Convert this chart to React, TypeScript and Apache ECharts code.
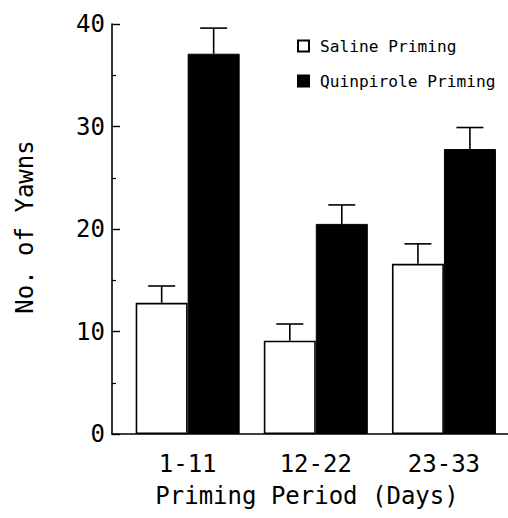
import React, { useEffect, useRef } from "react";
import * as echarts from "echarts";

const categories = ["1-11", "12-22", "23-33"];
const salineValues = [12.8, 9.1, 16.6];
const salineErrors = [1.64, 1.63, 1.95];
const quinValues = [37.1, 20.5, 27.8];
const quinErrors = [2.5, 1.85, 2.1];
const yTicks = { min: 0, max: 40, interval: 10 };

const FONT = "DejaVu Sans Mono";
const BAR_W = 52;

function errorSeries(name: string, values: number[], errs: number[], offset: number) {
  return {
    type: "custom",
    name,
    xAxisIndex: 0,
    yAxisIndex: 0,
    z: 5,
    silent: true,
    data: values.map((v, i) => [i, v, errs[i]]),
    renderItem: (params: any, api: any) => {
      const i = api.value(0);
      const v = api.value(1);
      const e = api.value(2);
      const base = api.coord([i, v]);
      const top = api.coord([i, v + e]);
      const cx = base[0] + offset;
      const style = { stroke: "#000", lineWidth: 1.6 };
      return {
        type: "group",
        children: [
          { type: "line", shape: { x1: cx, y1: base[1], x2: cx, y2: top[1] }, style },
          { type: "line", shape: { x1: cx - 13.5, y1: top[1], x2: cx + 13.5, y2: top[1] }, style },
        ],
      };
    },
  };
}

export default function App() {
  const ref = useRef<HTMLDivElement>(null);
  useEffect(() => {
    if (!ref.current) return;
    const chart = echarts.init(ref.current, null, { renderer: "svg" });
    chart.setOption({
      animation: false,
      backgroundColor: "#fff",
      textStyle: { fontFamily: FONT, color: "#000" },
      legend: {
        orient: "vertical",
        left: 297,
        top: 38,
        padding: 0,
        itemWidth: 11,
        itemHeight: 11,
        itemGap: 19,
        icon: "rect",
        data: ["Saline Priming", "Quinpirole Priming"],
        textStyle: { fontFamily: FONT, fontSize: 16.2, color: "#000", padding: [0, 0, 0, 6] },
      },
      grid: [
        { left: 123.6, width: 386, top: 24, bottom: 84 },
        { left: 112, right: 0, top: 24, bottom: 84 },
      ],
      xAxis: [
        {
          type: "category",
          gridIndex: 0,
          data: categories,
          axisLine: { show: false },
          axisTick: { show: false },
          axisLabel: { fontFamily: FONT, fontSize: 24, color: "#000", margin: 18 },
        },
        {
          type: "value",
          gridIndex: 1,
          min: 0,
          max: 1,
          axisLine: { show: true, lineStyle: { color: "#000", width: 1.6 } },
          axisTick: { show: false },
          axisLabel: { show: false },
          splitLine: { show: false },
        },
      ],
      yAxis: [
        { type: "value", gridIndex: 0, min: yTicks.min, max: yTicks.max, show: false },
        {
          type: "value",
          gridIndex: 1,
          min: yTicks.min,
          max: yTicks.max,
          interval: yTicks.interval,
          axisLine: { show: true, lineStyle: { color: "#000", width: 1.6 } },
          axisTick: { show: true, inside: true, length: 8, lineStyle: { color: "#000", width: 1.4 } },
          minorTick: { show: true, splitNumber: 2, length: 4, lineStyle: { color: "#000", width: 1.2 } },
          axisLabel: { fontFamily: FONT, fontSize: 24, color: "#000", margin: 7 },
          splitLine: { show: false },
        },
      ],
      graphic: [
        {
          type: "text",
          x: 25,
          y: 227,
          rotation: Math.PI / 2,
          style: {
            text: "No. of Yawns",
            font: `24px "${FONT}"`,
            fill: "#000",
            textAlign: "center",
            textVerticalAlign: "middle",
          },
        },
        {
          type: "text",
          x: 307,
          y: 496,
          style: {
            text: "Priming Period (Days)",
            font: `24px "${FONT}"`,
            fill: "#000",
            textAlign: "center",
            textVerticalAlign: "middle",
          },
        },
      ],
      series: [
        {
          type: "bar",
          name: "Saline Priming",
          xAxisIndex: 0,
          yAxisIndex: 0,
          data: salineValues,
          barWidth: BAR_W,
          barGap: "0%",
          itemStyle: { color: "#fff", borderColor: "#000", borderWidth: 1.6 },
        },
        {
          type: "bar",
          name: "Quinpirole Priming",
          xAxisIndex: 0,
          yAxisIndex: 0,
          data: quinValues,
          barWidth: BAR_W,
          barGap: "0%",
          itemStyle: { color: "#000", borderColor: "#000", borderWidth: 1 },
        },
        errorSeries("saline-err", salineValues, salineErrors, -BAR_W / 2),
        errorSeries("quin-err", quinValues, quinErrors, BAR_W / 2),
      ],
    });
    return () => chart.dispose();
  }, []);
  return (
    <div
      ref={ref}
      style={{ position: "fixed", left: 0, top: 0, width: 508, height: 518 }}
    />
  );
}
